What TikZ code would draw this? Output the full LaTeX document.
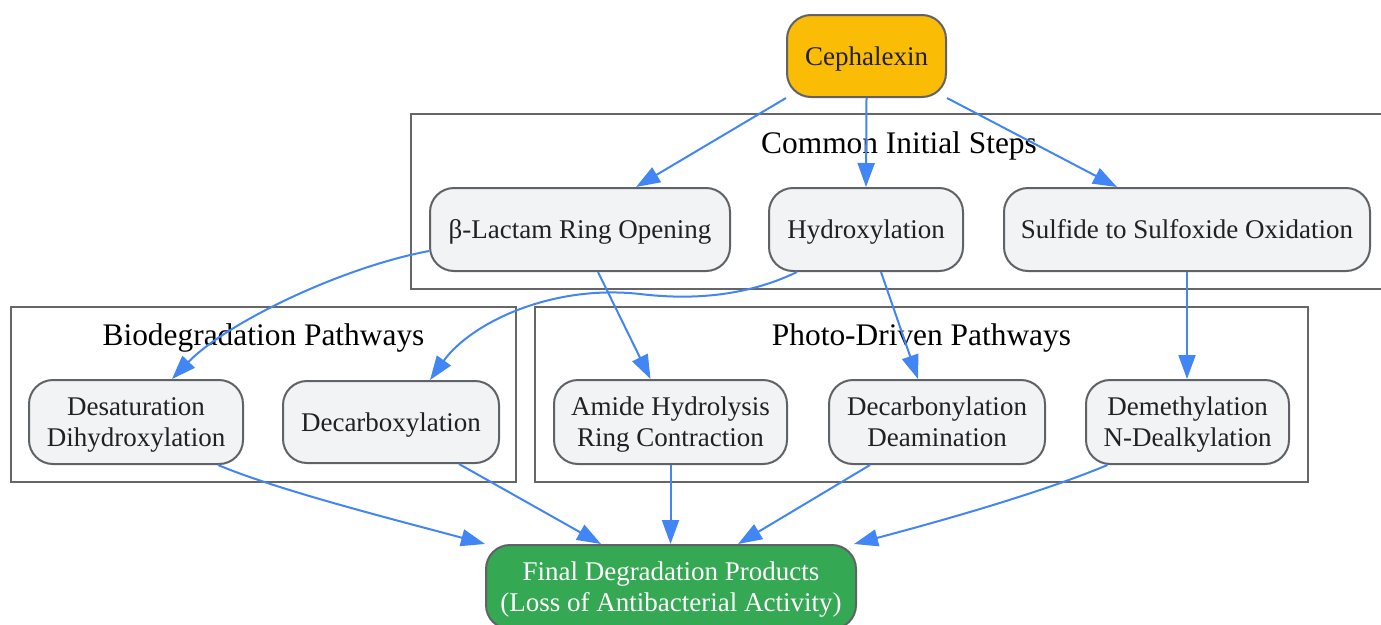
\documentclass[tikz,border=0pt]{standalone}
\usepackage{fontspec}
\setmainfont{Liberation Serif}
\usetikzlibrary{arrows.meta,calc}
\definecolor{edgeblue}{HTML}{4285F4}
\definecolor{nodegray}{HTML}{F1F3F4}
\definecolor{bordergray}{HTML}{5F6368}
\definecolor{cephyellow}{HTML}{FBBC05}
\definecolor{finalgreen}{HTML}{34A853}
\definecolor{textdark}{HTML}{202124}
\definecolor{clustergray}{HTML}{666666}
\tikzset{
  procbox/.style={draw=bordergray, line width=2pt, fill=nodegray, rectangle,
    rounded corners=24pt, inner sep=0pt, align=center, text=textdark,
    font=\fontsize{27}{31}\selectfont, text height=18pt, text depth=0pt},
  twoline/.style={text height=49pt, text depth=0pt},
  cluster/.style={draw=clustergray, line width=2pt},
  clusterlabel/.style={anchor=base, inner sep=0pt, font=\fontsize{31.4}{36}\selectfont, text=black},
  flow/.style={draw=edgeblue, line width=2pt, -{Triangle[length=24pt,width=17pt]}}
}
\begin{document}
\begin{tikzpicture}[x=1pt,y=-1pt]
\useasboundingbox (0,0) rectangle (1381,624);
% clusters
\draw[cluster] (411,114) rectangle (1392,289);
\draw[cluster] (11,307) rectangle (516,482);
\draw[cluster] (535,307) rectangle (1308,482);
\node[clusterlabel] (lcommon) at (899,153) {Common Initial Steps};
\node[clusterlabel] (lbio) at (263.5,345) {Biodegradation Pathways};
\node[clusterlabel] (lphoto) at (921.5,345) {Photo-Driven Pathways};
% nodes
\node[procbox, fill=cephyellow, minimum width=159pt, minimum height=82pt] (ceph) at (866.5,56) {Cephalexin};
\node[procbox, minimum width=300pt, minimum height=83pt] (lactam) at (580,229.5) {β-Lactam Ring Opening};
\node[procbox, minimum width=194pt, minimum height=83pt] (hydrox) at (866,229.5) {Hydroxylation};
\node[procbox, minimum width=366pt, minimum height=83pt] (sulf) at (1187,229.5) {Sulfide to Sulfoxide Oxidation};
\node[procbox, twoline, minimum width=214pt, minimum height=84pt] (desat) at (136,422) {Desaturation\\Dihydroxylation};
\node[procbox, minimum width=216pt, minimum height=82pt] (decarbox) at (391,422) {Decarboxylation};
\node[procbox, twoline, minimum width=233pt, minimum height=84pt] (amide) at (670.5,422) {Amide Hydrolysis\\Ring Contraction};
\node[procbox, twoline, minimum width=216pt, minimum height=84pt] (decarbon) at (937,422) {Decarbonylation\\Deamination};
\node[procbox, twoline, minimum width=203pt, minimum height=84pt] (demeth) at (1187.5,422) {Demethylation\\N-Dealkylation};
\node[procbox, twoline, fill=finalgreen, text=white, minimum width=370pt, minimum height=84pt] (final) at (671,587) {Final Degradation Products\\(Loss of Antibacterial Activity)};
% edges
\draw[flow] (ceph.south west) -- ($(lactam.north)+(56,0)$);
\draw[flow] (ceph.south) -- (hydrox.north);
\draw[flow] (ceph.south east) -- ($(sulf.north)+(-70,0)$);
\draw[flow] ($(lactam.west)+(0,21.5)$) .. controls +(-90,17) and +(53,-55) .. ($(desat.north)+(36,0)$);
\draw[flow] ($(hydrox.south)+(-69,0)$) .. controls +(-52,25) and +(50,6) .. (640,294)
   .. controls +(-90,-10) and +(40,-56) .. ($(decarbox.north)+(39,0)$);
\draw[flow] ($(lactam.south)+(18,0)$) -- ($(amide.north)+(-20,0)$);
\draw[flow] ($(hydrox.south)+(15,0)$) -- ($(decarbon.north)+(-19,0)$);
\draw[flow] (sulf.south) -- (sulf.south |- demeth.north);
\draw[flow] ($(desat.south)+(82,0)$) .. controls +(62,26) and +(-85,-23) .. (final.north west);
\draw[flow] ($(decarbox.south)+(68,0)$) -- ($(final.north)+(-70,0)$);
\draw[flow] (amide.south) -- (amide.south |- final.north);
\draw[flow] ($(decarbon.south)+(-67,0)$) -- ($(final.north)+(67,0)$);
\draw[flow] ($(demeth.south)+(-80,0)$) .. controls +(-67,28) and +(87,-23) .. ($(final.north east)+(-3,0)$);
\end{tikzpicture}
\end{document}
